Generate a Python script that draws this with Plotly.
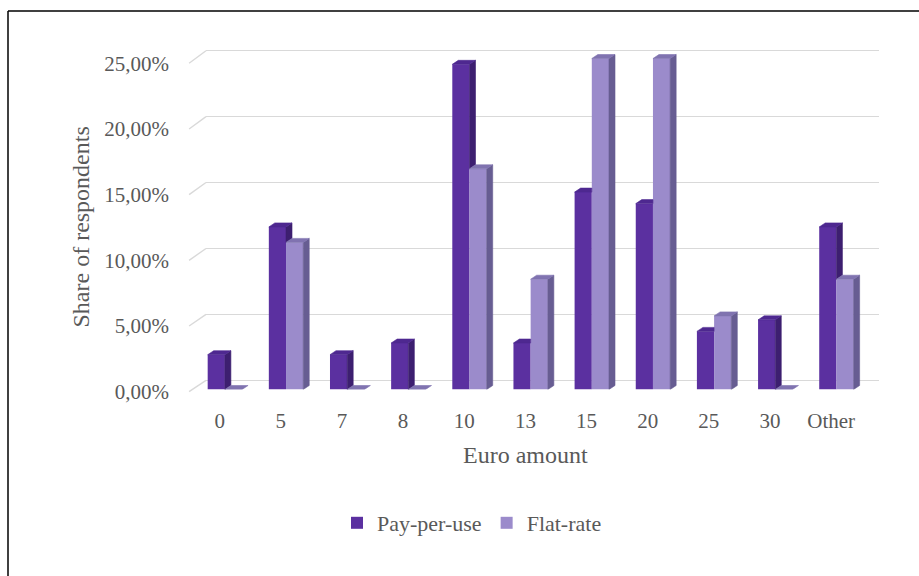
import plotly.graph_objects as go

# ---- data -------------------------------------------------------------
categories = ["0", "5", "7", "8", "10", "13", "15", "20", "25", "30", "Other"]
pay_per_use = [2.63, 12.28, 2.63, 3.51, 24.56, 3.51, 14.91, 14.04, 4.39, 5.26, 12.28]
flat_rate = [0.00, 11.11, 0.00, 0.00, 16.67, 8.33, 25.00, 25.00, 5.56, 0.00, 8.33]
y_ticks = [0, 5, 10, 15, 20, 25]
y_tick_labels = ["0,00%", "5,00%", "10,00%", "15,00%", "20,00%", "25,00%"]

# ---- layout helpers (pixel based, figure has zero margins) -------------
W, H = 919, 576
FONT = "Liberation Serif, Times New Roman, serif"
GREY = "#595959"
GRID = "#d9d9d9"


def fx(px):
    return px / W


def fy(py):
    return 1 - py / H


n = len(categories)
YMAX = 25
YTOP = 28  # headroom on the column axis so the 3-D caps are not clipped

# front plane (tick labels), back wall (gridlines), bar plane (columns)
front_x = (189.1, 861.7)
front_y = (391.7, 63.3)   # pixel rows for value 0 and value YMAX
back_x = (206.0, 878.6)
back_y = (380.3, 50.7)
bar_x = (194.3, 867.0)
bar_y0 = 389.5            # pixel row of value 0 on the column plane
val_px = (389.5 - 58.5) / YMAX
bar_ytop = bar_y0 - YTOP * val_px

# back wall axis gets a little padding so the 0 and 25 gridlines are inside the range
back_px = (back_y[0] - back_y[1]) / YMAX
GRID_PAD = 1.0
back_dom = (back_y[0] + GRID_PAD * back_px, back_y[1] - GRID_PAD * back_px)

cat_px = (bar_x[1] - bar_x[0]) / n
bar_w = 17.2 / cat_px          # column width in category units
depth_x = 6.0 / cat_px         # 3-D depth offset in data units
depth_y = 4.0 / val_px

colors = {
    "Pay-per-use": {"front": "#5b30a0", "side": "#3d1f70", "top": "#4e2890"},
    "Flat-rate": {"front": "#9b8bcb", "side": "#675d92", "top": "#8073b0"},
}

fig = go.Figure()

# invisible anchors so the front and back-wall subplots get drawn
for xa, ya in (("x", "y"), ("x2", "y2")):
    fig.add_trace(go.Scatter(x=[0], y=[0], xaxis=xa, yaxis=ya, mode="markers",
                             marker=dict(opacity=0), showlegend=False, hoverinfo="skip"))

series = [("Pay-per-use", pay_per_use, -bar_w), ("Flat-rate", flat_rate, 0.0)]

# front faces of the columns
for name, vals, off in series:
    fig.add_trace(go.Bar(
        x=list(range(n)), y=vals, width=bar_w, offset=off, name=name,
        marker=dict(color=colors[name]["front"], line=dict(width=0)),
        xaxis="x3", yaxis="y3", hoverinfo="skip",
    ))

# side and top faces, built from the same values
for si, (name, vals, off) in enumerate(series):
    side_x, side_y, top_x, top_y = [], [], [], []
    nxt = series[si + 1][1] if si + 1 < len(series) else None
    for i, v in enumerate(vals):
        x0 = i + off
        x1 = x0 + bar_w
        neighbour = nxt[i] if nxt is not None else 0.0
        # side face: hidden below the neighbouring column's top
        low = min(neighbour, v) if nxt is not None else 0.0
        if v > low:
            side_x += [x1, x1 + depth_x, x1 + depth_x, x1, x1, None]
            side_y += [low, low + depth_y, v + depth_y, v, low, None]
        # top face: clipped where a taller neighbour stands in front
        if nxt is not None and neighbour > v:
            top_x += [x0, x1, x1, x0 + depth_x, x0, None]
            top_y += [v, v, v + depth_y, v + depth_y, v, None]
        else:
            top_x += [x0, x1, x1 + depth_x, x0 + depth_x, x0, None]
            top_y += [v, v, v + depth_y, v + depth_y, v, None]
    for xs, ys, key in ((side_x, side_y, "side"), (top_x, top_y, "top")):
        fig.add_trace(go.Scatter(
            x=xs, y=ys, fill="toself", mode="lines",
            line=dict(width=0.6, color=colors[name][key]),
            fillcolor=colors[name][key], xaxis="x3", yaxis="y3",
            showlegend=False, hoverinfo="skip",
        ))

# receding connectors from the front edge to the back wall gridlines
shapes = []
for t in y_ticks:
    yf = front_y[0] + (front_y[1] - front_y[0]) * t / YMAX
    yb = back_y[0] + (back_y[1] - back_y[0]) * t / YMAX
    shapes.append(dict(type="line", xref="paper", yref="paper",
                       x0=fx(front_x[0]), y0=fy(yf), x1=fx(back_x[0]), y1=fy(yb),
                       line=dict(color=GRID, width=1.4), layer="below"))
# outer frame (left and top edges)
shapes.append(dict(type="line", xref="paper", yref="paper",
                   x0=fx(8), y0=fy(11), x1=fx(8), y1=fy(600),
                   line=dict(color="black", width=1.5)))
shapes.append(dict(type="line", xref="paper", yref="paper",
                   x0=fx(8), y0=fy(11), x1=fx(940), y1=fy(11),
                   line=dict(color="black", width=1.5)))

hidden = dict(showgrid=False, zeroline=False, showline=False, showticklabels=False,
              ticks="", automargin=False, fixedrange=True)

fig.update_layout(
    template="none",
    width=W, height=H,
    margin=dict(l=0, r=0, t=0, b=0, pad=0, autoexpand=False),
    paper_bgcolor="white", plot_bgcolor="rgba(0,0,0,0)",
    barmode="overlay",
    font=dict(family=FONT, color=GREY),
    shapes=shapes,
    xaxis=dict(domain=[fx(front_x[0]), fx(front_x[1])], range=[-0.5, n - 0.5],
               tickvals=list(range(n)), ticktext=categories,
               showgrid=False, zeroline=False, showline=False, ticks="",
               ticklabelstandoff=14, tickfont=dict(size=21, color=GREY, family=FONT),
               anchor="y", automargin=False, fixedrange=True),
    yaxis=dict(domain=[fy(front_y[0]), fy(front_y[1])], range=[0, YMAX],
               tickvals=y_ticks, ticktext=y_tick_labels,
               showgrid=False, zeroline=False, showline=False, ticks="",
               ticklabelstandoff=19, tickfont=dict(size=21, color=GREY, family=FONT),
               anchor="x", automargin=False, fixedrange=True),
    xaxis2=dict(domain=[fx(back_x[0]), fx(back_x[1])], range=[-0.5, n - 0.5],
                anchor="y2", **hidden),
    yaxis2=dict(domain=[fy(back_dom[0]), fy(back_dom[1])],
                range=[-GRID_PAD, YMAX + GRID_PAD],
                tickvals=y_ticks, showgrid=True, gridcolor=GRID, gridwidth=1.4,
                zeroline=False, showline=False, showticklabels=False, ticks="",
                anchor="x2", automargin=False, fixedrange=True),
    xaxis3=dict(domain=[fx(bar_x[0]), fx(bar_x[1])], range=[-0.5, n - 0.5],
                anchor="y3", **hidden),
    yaxis3=dict(domain=[fy(bar_y0), fy(bar_ytop)], range=[0, YTOP],
                anchor="x3", **hidden),
    legend=dict(orientation="h", x=fx(472), y=fy(523), xanchor="center", yanchor="middle",
                font=dict(size=22, color=GREY, family=FONT), itemwidth=30,
                bgcolor="rgba(0,0,0,0)", borderwidth=0, traceorder="normal"),
    annotations=[
        dict(text="Euro amount", xref="paper", yref="paper", x=fx(525.4), y=fy(455),
             showarrow=False, xanchor="center", yanchor="middle",
             font=dict(size=24, color=GREY, family=FONT)),
        dict(text="Share of respondents", xref="paper", yref="paper", x=fx(80), y=fy(227.5),
             showarrow=False, textangle=-90, xanchor="center", yanchor="middle",
             font=dict(size=24, color=GREY, family=FONT)),
    ],
)

fig.write_html("out.html")
